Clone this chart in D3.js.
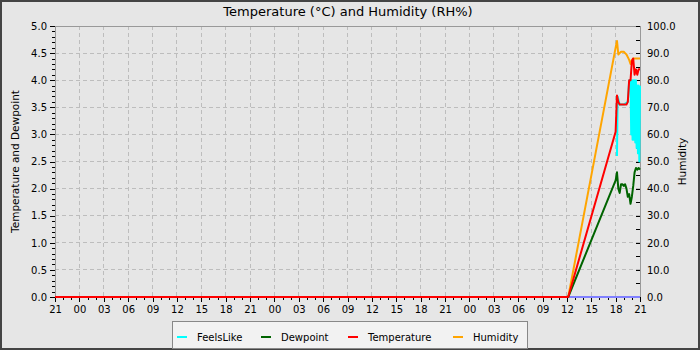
<!DOCTYPE html>
<html>
<head>
<meta charset="utf-8">
<script src="https://d3js.org/d3.v7.min.js"></script>
<style>
  body { margin: 0; background: #fff; }
  text { font-family: "DejaVu Sans", sans-serif; fill: #000; }
</style>
</head>
<body>
<div id="chart"></div>
<script>
// time window shown on the x axis
var startTime = "2024-03-01 21:00";
var endTime = "2024-03-04 21:00";

// shared sample times for temperature, dewpoint and humidity
var times = ["2024-03-01 21:00", "2024-03-04 12:10", "2024-03-04 18:00", "2024-03-04 18:10",
  "2024-03-04 18:20", "2024-03-04 18:30", "2024-03-04 18:40", "2024-03-04 18:50",
  "2024-03-04 19:00", "2024-03-04 19:10", "2024-03-04 19:20", "2024-03-04 19:30",
  "2024-03-04 19:40", "2024-03-04 19:50", "2024-03-04 20:00", "2024-03-04 20:10",
  "2024-03-04 20:20", "2024-03-04 20:30", "2024-03-04 20:40", "2024-03-04 20:50",
  "2024-03-04 21:00"];
var temperature = [0, 0, 3.05, 3.72, 3.6, 3.55, 3.55, 3.55, 3.55, 3.55, 3.55, 3.6,
  4.0, 4.0, 4.35, 4.4, 4.1, 4.2, 4.1, 4.2, 4.2];
var dewpoint = [0, 0, 2.15, 2.3, 2.0, 1.92, 2.08, 2.08, 2.05, 2.08, 2.0, 1.85,
  1.9, 1.72, 1.85, 2.05, 2.3, 2.38, 2.35, 2.38, 2.35];
var humidity = [0, 0, 92, 94.5, 89.5, 90, 90.5, 90.5, 90.5, 90, 89.5, 88.5,
  87.5, 86, 87.5, 88, 88, 88, 88, 88, 88];

// feels-like has its own, denser samples
var feelsTimes = ["2024-03-04 18:10", "2024-03-04 18:15", "2024-03-04 18:30", "2024-03-04 19:00",
  "2024-03-04 19:30", "2024-03-04 19:40", "2024-03-04 19:50", "2024-03-04 19:55",
  "2024-03-04 20:00", "2024-03-04 20:05", "2024-03-04 20:10", "2024-03-04 20:15",
  "2024-03-04 20:20", "2024-03-04 20:25", "2024-03-04 20:30", "2024-03-04 20:35",
  "2024-03-04 20:40", "2024-03-04 20:45", "2024-03-04 20:50", "2024-03-04 20:55",
  "2024-03-04 21:00"];
var feelsLike = [2.6, 3.7, 3.55, 3.55, 3.6, 4.0, 4.0, 3.0, 4.0, 2.9, 4.0, 2.9,
  4.0, 2.85, 4.0, 2.75, 3.9, 2.65, 3.9, 2.5, 3.9];

// unlabelled zero series at the bottom
var baseTimes = ["2024-03-04 12:10", "2024-03-04 21:00"];
var baseValues = [0, 0];

var leftTicks = [0, 0.5, 1, 1.5, 2, 2.5, 3, 3.5, 4, 4.5, 5];

var legendNames = ["FeelsLike", "Dewpoint", "Temperature", "Humidity"];
var legendColors = ["#00ffff", "#006400", "#ff0000", "#ffa500"];

var parse = d3.timeParse("%Y-%m-%d %H:%M");
function zipSeries(ts, vs) {
  return ts.map(function(t, i) { return {t: parse(t), v: vs[i]}; });
}

var width = 700, height = 350;
var margin = {top: 26, right: 60, bottom: 53, left: 55};
var plotW = width - margin.left - margin.right;
var plotH = height - margin.top - margin.bottom;

var svg = d3.select("#chart").append("svg")
  .attr("width", width)
  .attr("height", height);

svg.append("rect")
  .attr("x", 1).attr("y", 1)
  .attr("width", width - 2).attr("height", height - 2)
  .attr("fill", "#e6e6e6")
  .attr("stroke", "#444")
  .attr("stroke-width", 2);

var x = d3.scaleTime()
  .domain([parse(startTime), parse(endTime)])
  .range([margin.left, margin.left + plotW]);
var yL = d3.scaleLinear().domain([0, 5]).range([margin.top + plotH, margin.top]);
var yR = d3.scaleLinear().domain([0, 100]).range([margin.top + plotH, margin.top]);

// grid
var grid = svg.append("g")
  .attr("stroke", "#bdbdbd")
  .attr("stroke-dasharray", "4,3")
  .attr("shape-rendering", "crispEdges");
grid.selectAll(".hg").data(leftTicks).enter().append("line")
  .attr("x1", margin.left).attr("x2", margin.left + plotW)
  .attr("y1", d => yL(d)).attr("y2", d => yL(d));
grid.selectAll(".vg").data(x.ticks(d3.timeHour.every(3))).enter().append("line")
  .attr("x1", d => x(d)).attr("x2", d => x(d))
  .attr("y1", margin.top).attr("y2", margin.top + plotH);

// frame
svg.append("rect")
  .attr("x", margin.left).attr("y", margin.top)
  .attr("width", plotW).attr("height", plotH)
  .attr("fill", "none")
  .attr("stroke", "#999")
  .attr("shape-rendering", "crispEdges");

// axes
function styleAxis(g) {
  g.select(".domain").remove();
  g.selectAll("text").style("font-size", "10px").attr("fill", "#000");
  g.selectAll("line").attr("stroke", "#000");
  g.attr("shape-rendering", "crispEdges");
}

svg.append("g")
  .attr("transform", "translate(" + margin.left + ",0)")
  .call(d3.axisLeft(yL).tickValues(d3.range(0, 51).map(d => d / 10)).tickSize(3).tickFormat(""))
  .call(styleAxis);
svg.append("g")
  .attr("transform", "translate(" + margin.left + ",0)")
  .call(d3.axisLeft(yL).tickValues(leftTicks).tickSize(5).tickPadding(3).tickFormat(d3.format(".1f")))
  .call(styleAxis);

svg.append("g")
  .attr("transform", "translate(0," + (margin.top + plotH) + ")")
  .call(d3.axisBottom(x).ticks(d3.timeHour.every(1)).tickSize(3).tickFormat(""))
  .call(styleAxis);
svg.append("g")
  .attr("transform", "translate(0," + (margin.top + plotH) + ")")
  .call(d3.axisBottom(x).ticks(d3.timeHour.every(3)).tickSize(5).tickPadding(4).tickFormat(d3.timeFormat("%H")))
  .call(styleAxis);

svg.append("g")
  .attr("transform", "translate(" + (margin.left + plotW) + ",0)")
  .call(d3.axisRight(yR).tickValues(d3.range(0, 101, 5)).tickSize(-4).tickPadding(7)
    .tickFormat(d => d % 10 === 0 ? d3.format(".1f")(d) : ""))
  .call(styleAxis);

// lines
var lineL = d3.line().x(d => x(d.t)).y(d => yL(d.v));
var lineR = d3.line().x(d => x(d.t)).y(d => yR(d.v));

function drawLine(data, gen, color, w) {
  svg.append("path")
    .datum(data)
    .attr("fill", "none")
    .attr("stroke", color)
    .attr("stroke-width", w)
    .attr("stroke-linejoin", "round")
    .attr("d", gen);
}

drawLine(zipSeries(baseTimes, baseValues), lineL, "#8080ff", 2);
drawLine(zipSeries(times, humidity), lineR, legendColors[3], 2);
drawLine(zipSeries(feelsTimes, feelsLike), lineL, legendColors[0], 2);
drawLine(zipSeries(times, dewpoint), lineL, legendColors[1], 2);
drawLine(zipSeries(times, temperature), lineL, legendColors[2], 2);

// titles
svg.append("text")
  .attr("x", 348).attr("y", 16)
  .attr("text-anchor", "middle")
  .style("font-size", "13px")
  .text("Temperature (°C) and Humidity (RH%)");

svg.append("text")
  .attr("transform", "translate(19," + (margin.top + plotH / 2) + ") rotate(-90)")
  .attr("text-anchor", "middle")
  .style("font-size", "10.5px")
  .text("Temperature and Dewpoint");

svg.append("text")
  .attr("transform", "translate(686," + (margin.top + plotH / 2) + ") rotate(-90)")
  .attr("text-anchor", "middle")
  .style("font-size", "10.5px")
  .text("Humidity");

// legend
var legend = svg.append("g");
legend.append("rect")
  .attr("x", 172.5).attr("y", 321.5)
  .attr("width", 355).attr("height", 27)
  .attr("fill", "#f2f2f2")
  .attr("stroke", "#888");

var legendX = [177, 261, 348, 453];
var items = legend.selectAll(".item").data(legendNames).enter().append("g");
items.append("line")
  .attr("x1", (d, i) => legendX[i]).attr("x2", (d, i) => legendX[i] + 10)
  .attr("y1", 337).attr("y2", 337)
  .attr("stroke", (d, i) => legendColors[i])
  .attr("stroke-width", 2);
items.append("text")
  .attr("x", (d, i) => legendX[i] + 20)
  .attr("y", 341)
  .style("font-size", "10px")
  .text(d => d);
</script>
</body>
</html>
